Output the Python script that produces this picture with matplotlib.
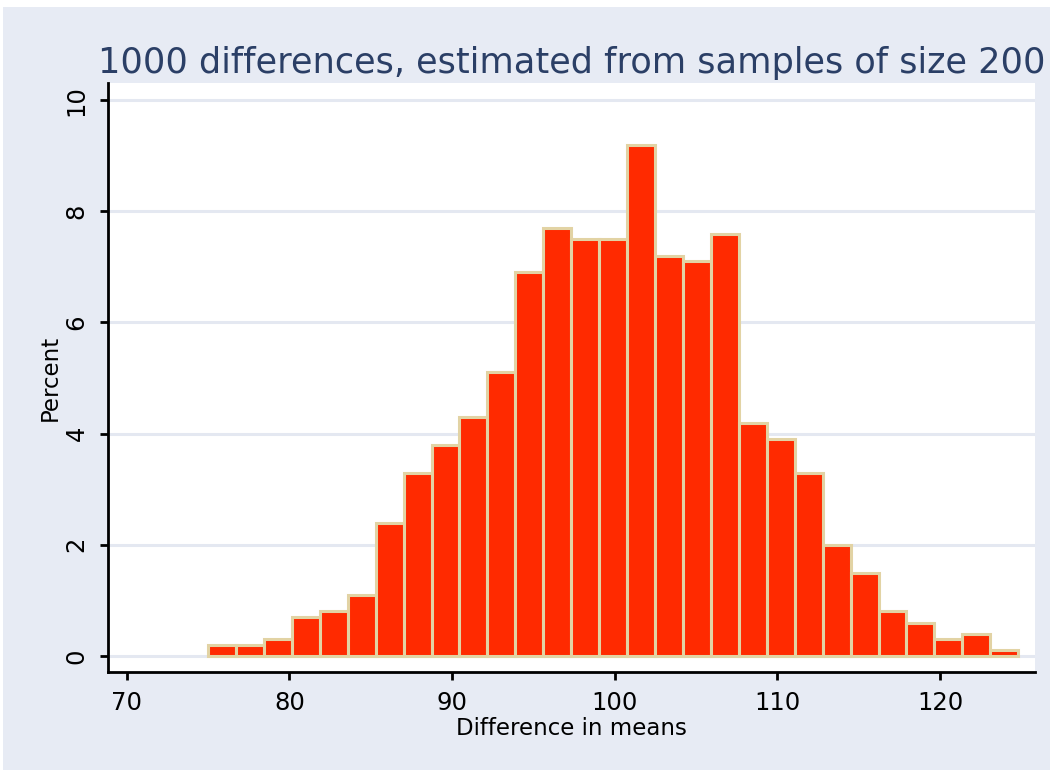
import numpy as np
import matplotlib
matplotlib.use("Agg")
import matplotlib.pyplot as plt
from matplotlib.patches import Rectangle

# percent of the 1000 differences falling in each of the 29 bins
percent = [0.2, 0.2, 0.3, 0.7, 0.8, 1.1, 2.4, 3.3, 3.8, 4.3,
           5.1, 6.9, 7.7, 7.5, 7.5, 9.2, 7.2, 7.1, 7.6,
           4.2, 3.9, 3.3, 2.0, 1.5, 0.8, 0.6, 0.3, 0.4, 0.1]
lo, hi = 75.0, 124.8
xticks = [70, 80, 90, 100, 110, 120]
yticks = [0, 2, 4, 6, 8, 10]

edges = np.linspace(lo, hi, len(percent) + 1)

bg = "#e7ebf4"
fig = plt.figure(figsize=(10.5, 7.7), dpi=100, facecolor="white")
fig.patches.append(Rectangle((3 / 1050, 0), 1, 1 - 7 / 770, transform=fig.transFigure,
                             facecolor=bg, edgecolor="none", zorder=-10))

ax = fig.add_axes([108 / 1050, 1 - 672 / 770, 927 / 1050, 589 / 770])
ax.set_facecolor("white")

for t in yticks:
    ax.axhline(t, color="#e4e8f1", lw=2.2, zorder=0)

ax.bar(edges[:-1], percent, width=np.diff(edges), align="edge",
       color="#ff2a00", edgecolor="#e2d3a4", linewidth=2.2, zorder=2)

ax.set_xlim(68.85, 125.83)
ax.set_ylim(-0.29, 10.31)
ax.set_xticks(xticks)
ax.set_yticks(yticks)
ax.set_yticklabels([str(t) for t in yticks], rotation=90, va="center")

for s in ["top", "right"]:
    ax.spines[s].set_visible(False)
for s in ["left", "bottom"]:
    ax.spines[s].set_linewidth(2)
ax.tick_params(direction="out", length=6, width=2, labelsize=17.5, pad=8)

ax.set_xlabel("Difference in means", fontsize=16.5, labelpad=1)
ax.set_ylabel("Percent", fontsize=16.5, labelpad=2)
ax.set_title("1000 differences, estimated from samples of size 200",
             fontsize=25.3, color="#2b3f66", pad=7)

fig.savefig("out.png", dpi=100, facecolor=fig.get_facecolor())
